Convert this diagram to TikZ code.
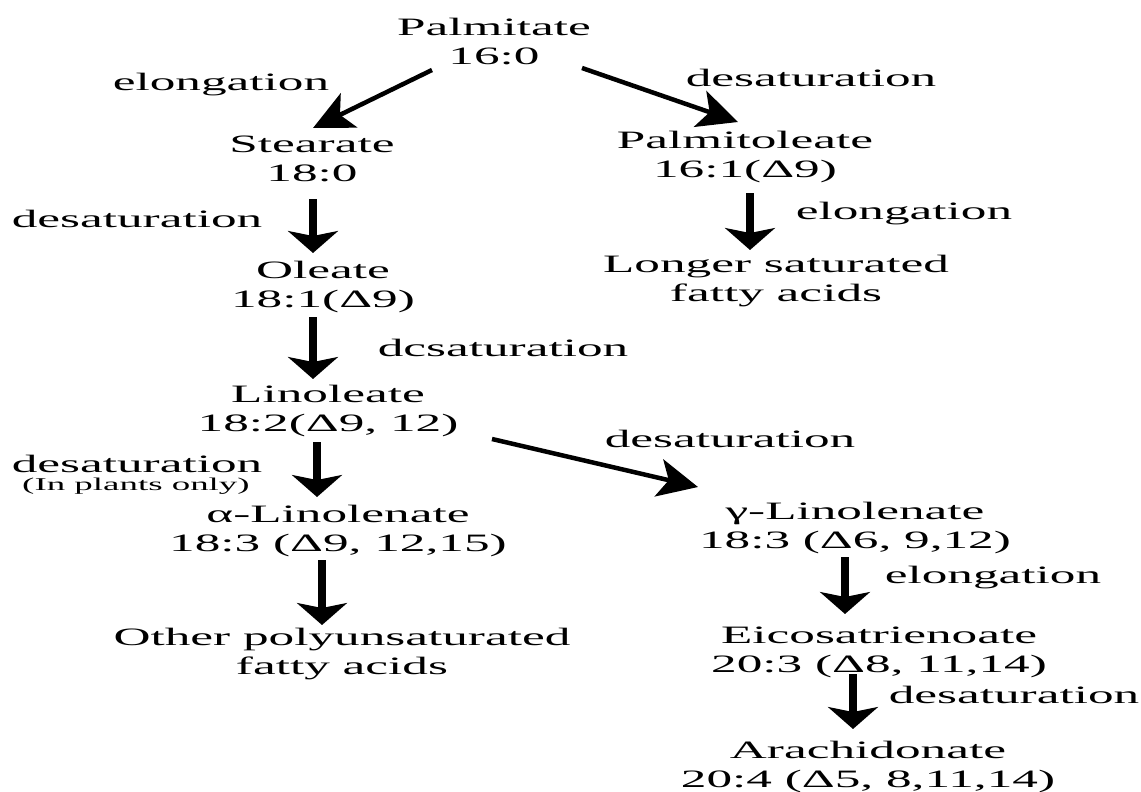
\documentclass[tikz,border=0pt]{standalone}
\usepackage{fontspec}
\setmainfont{Liberation Serif}[FakeStretch=2.05]
\usetikzlibrary{arrows.meta}
\begin{document}
\begin{tikzpicture}[x=1pt,y=-1pt,
  cmpd/.style={align=center, inner sep=0pt, font=\fontsize{25}{29}\selectfont},
  lbl/.style={anchor=base, inner sep=0pt, font=\fontsize{25}{29}\selectfont},
  smalllbl/.style={anchor=base, inner sep=0pt, font=\fontsize{18}{21}\selectfont},
  varr/.style={line width=8pt, -{Stealth[length=22pt,width=50pt,inset=5pt]}},
  darr/.style={line width=4.5pt, -{Stealth[length=40pt,width=38pt,inset=10pt]}},
]
\fill[white] (0,0) rectangle (1141,792);
\useasboundingbox (0,0) rectangle (1141,792);

% compounds
\node[cmpd] (pal) at (494,44.7) {\strut Palmitate\\\strut 16:0};
\node[cmpd] (ste) at (312,160.7) {\strut Stearate\\\strut 18:0};
\node[cmpd] (ole) at (323,287) {\strut Oleate\\\strut 18:1(Δ9)};
\node[cmpd] (pto) at (745,157) {\strut Palmitoleate\\\strut 16:1(Δ9)};
\node[cmpd] (lon) at (776,281) {\strut Longer saturated\\\strut fatty acids};
\node[cmpd] (lin) at (328,410.7) {\strut Linoleate\\\strut 18:2(Δ9, 12)};
\node[cmpd] (aln) at (338,531) {\strut α-Linolenate\\\strut 18:3 (Δ9, 12,15)};
\node[cmpd] (oth) at (342,654) {\strut Other polyunsaturated\\\strut fatty acids};
\node[cmpd] (gln) at (855,528) {\strut γ-Linolenate\\\strut 18:3 (Δ6, 9,12)};
\node[cmpd] (eic) at (879,652) {\strut Eicosatrienoate\\\strut 20:3 (Δ8, 11,14)};
\node[cmpd] (ara) at (868,767) {\strut Arachidonate\\\strut 20:4 (Δ5, 8,11,14)};

% reaction labels
\node[lbl] (l1) at (221,91) {elongation};
\node[lbl] (l2) at (811,87) {desaturation};
\node[lbl] (l3) at (137,227) {desaturation};
\node[lbl] (l4) at (904,219) {elongation};
\node[lbl] (l5) at (503,356) {dcsaturation};
\node[lbl] (l6) at (730,447) {desaturation};
\node[lbl] (l7) at (137,472) {desaturation};
\node[smalllbl] (l7b) at (136,490) {(In plants only)};
\node[lbl] (l8) at (993,583) {elongation};
\node[lbl] (l9) at (1014,703) {desaturation};

% arrows
\draw[darr] ([shift={(-62,25.3)}]pal.center) -- ([shift={(1,-32.7)}]ste.center);
\draw[darr] ([shift={(88,23.3)}]pal.center) -- ([shift={(-7,-35)}]pto.center);
\draw[varr] ([shift={(1,38.3)}]ste.center) -- ([shift={(-10,-34)}]ole.center);
\draw[varr] ([shift={(5,36)}]pto.center) -- ([shift={(-26,-31)}]lon.center);
\draw[varr] ([shift={(-10,30)}]ole.center) -- ([shift={(-15,-31.7)}]lin.center);
\draw[varr] ([shift={(-11,31.3)}]lin.center) -- ([shift={(-21,-34)}]aln.center);
\draw[darr] ([shift={(164,28.3)}]lin.center) -- ([shift={(-157,-41)}]gln.center);
\draw[varr] ([shift={(-16,29)}]aln.center) -- ([shift={(-20,-29)}]oth.center);
\draw[varr] ([shift={(-10,29)}]gln.center) -- ([shift={(-34,-38)}]eic.center);
\draw[varr] ([shift={(-26,22)}]eic.center) -- ([shift={(-15,-38)}]ara.center);
\end{tikzpicture}
\end{document}
